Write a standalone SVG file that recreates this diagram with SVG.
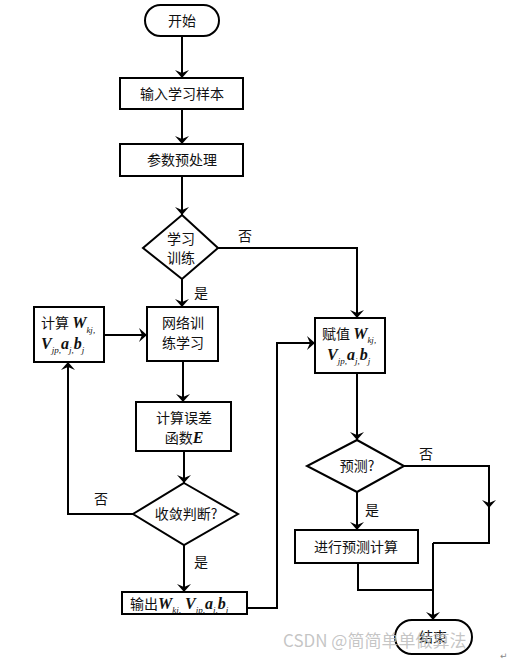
<svg xmlns="http://www.w3.org/2000/svg" width="509" height="664" viewBox="0 0 509 664">
<defs>
<marker id="ah" viewBox="0 0 8 14" refX="8" refY="7" markerWidth="8" markerHeight="14" markerUnits="userSpaceOnUse" orient="auto">
<path d="M0,0 L8,7 L0,14 L3,7 Z" fill="#000"/>
</marker>
<style>
.s{fill:#fff;stroke:#000;stroke-width:2}
.c{fill:none;stroke:#000;stroke-width:2}
.t{font-family:"Noto Sans CJK SC","Noto Sans",sans-serif;font-size:14px;fill:#111;text-anchor:middle}
.l{text-anchor:start}
.m{font-family:"Liberation Serif",serif;font-style:italic;font-weight:bold;font-size:16px}
.sb{font-family:"Liberation Serif",serif;font-style:italic;font-size:9px}
.wm{font-family:"Noto Sans CJK SC","Noto Sans",sans-serif;font-size:17px;fill:#bbb;fill-opacity:0.85}
</style>
</defs>
<g id="connectors">
<line class="c" x1="182" y1="36" x2="182" y2="78" marker-end="url(#ah)"/>
<line class="c" x1="182" y1="109" x2="182" y2="144" marker-end="url(#ah)"/>
<line class="c" x1="182" y1="176" x2="182" y2="215" marker-end="url(#ah)"/>
<line class="c" x1="182" y1="279" x2="182" y2="307" marker-end="url(#ah)"/>
<polyline class="c" points="218,248 357,248 357,318" marker-end="url(#ah)"/>
<line class="c" x1="104" y1="335" x2="147" y2="335" marker-end="url(#ah)"/>
<line class="c" x1="183" y1="361" x2="183" y2="402" marker-end="url(#ah)"/>
<line class="c" x1="184" y1="451" x2="184" y2="483" marker-end="url(#ah)"/>
<polyline class="c" points="133,514 68,514 68,362" marker-end="url(#ah)"/>
<line class="c" x1="184" y1="545" x2="184" y2="592" marker-end="url(#ah)"/>
<polyline class="c" points="247,608 277,608 277,343 315,343" marker-end="url(#ah)"/>
<line class="c" x1="357" y1="373" x2="357" y2="440" marker-end="url(#ah)"/>
<line class="c" x1="357" y1="492" x2="357" y2="530" marker-end="url(#ah)"/>
<polyline class="c" points="404,466 489,466 489,508" marker-end="url(#ah)"/>
<polyline class="c" points="489,500 489,543 433,543"/>
<polyline class="c" points="358,563 358,590 433,590"/>
<line class="c" x1="433" y1="543" x2="433" y2="620" marker-end="url(#ah)"/>
<text class="t" x="245" y="241">否</text>
<text class="t" x="201" y="298">是</text>
<text class="t" x="101" y="504">否</text>
<text class="t" x="201" y="567">是</text>
<text class="t" x="426" y="459">否</text>
<text class="t" x="372" y="515">是</text>
</g>
<g id="start">
<rect class="s" x="145" y="5" width="74" height="31" rx="15.5"/>
<text class="t" x="182" y="26">开始</text>
</g>
<g id="input">
<rect class="s" x="120" y="78" width="123" height="31"/>
<text class="t" x="182" y="99">输入学习样本</text>
</g>
<g id="preprocess">
<rect class="s" x="120" y="144" width="123" height="32"/>
<text class="t" x="182" y="165">参数预处理</text>
</g>
<g id="train-decision">
<polygon class="s" points="182,215 218,248 182,279 143,248"/>
<text class="t" x="181" y="244">学习</text>
<text class="t" x="181" y="263">训练</text>
</g>
<g id="calc-w">
<rect class="s" x="34" y="307" width="70" height="55"/>
<text class="t l" x="41" y="328">计算 <tspan class="m">W</tspan><tspan class="sb" dy="5">kj</tspan><tspan class="sb">,</tspan></text>
<text class="t l" x="41" y="349"><tspan class="m">V</tspan><tspan class="sb" dy="4">jp</tspan><tspan class="sb">,</tspan><tspan class="m" dy="-4">a</tspan><tspan class="sb" dy="4">j</tspan><tspan class="sb">,</tspan><tspan class="m" dy="-4">b</tspan><tspan class="sb" dy="4">j</tspan></text>
</g>
<g id="net-train">
<rect class="s" x="147" y="307" width="71" height="54"/>
<text class="t" x="183" y="328">网络训</text>
<text class="t" x="183" y="348">练学习</text>
</g>
<g id="error">
<rect class="s" x="136" y="402" width="95" height="49"/>
<text class="t" x="184" y="423">计算误差</text>
<text class="t" x="184" y="443">函数<tspan class="m">E</tspan></text>
</g>
<g id="converge">
<polygon class="s" points="184,483 238,514 184,545 133,514"/>
<text class="t" x="186" y="519">收敛判断?</text>
</g>
<g id="output">
<rect class="s" x="122" y="592" width="125" height="22"/>
<text class="t l" x="130" y="609">输出<tspan class="m">W</tspan><tspan class="sb" dy="4">kj</tspan><tspan class="sb">,</tspan><tspan class="m" dy="-4"> V</tspan><tspan class="sb" dy="4">jp</tspan><tspan class="sb">,</tspan><tspan class="m" dy="-4">a</tspan><tspan class="sb" dy="4">j</tspan><tspan class="sb">,</tspan><tspan class="m" dy="-4">b</tspan><tspan class="sb" dy="4">j</tspan></text>
</g>
<g id="assign">
<rect class="s" x="315" y="318" width="70" height="55"/>
<text class="t l" x="322" y="339">赋值 <tspan class="m">W</tspan><tspan class="sb" dy="4">kj</tspan><tspan class="sb">,</tspan></text>
<text class="t l" x="327" y="360"><tspan class="m">V</tspan><tspan class="sb" dy="4">jp</tspan><tspan class="sb">,</tspan><tspan class="m" dy="-4">a</tspan><tspan class="sb" dy="4">j</tspan><tspan class="sb">,</tspan><tspan class="m" dy="-4">b</tspan><tspan class="sb" dy="4">j</tspan></text>
</g>
<g id="predict-decision">
<polygon class="s" points="357,440 404,466 357,492 307,466"/>
<text class="t" x="357" y="471">预测?</text>
</g>
<g id="predict-calc">
<rect class="s" x="295" y="530" width="123" height="33"/>
<text class="t" x="356" y="552">进行预测计算</text>
</g>
<g id="end">
<rect class="s" x="395" y="620" width="77" height="34" rx="17"/>
<text class="t" x="433" y="642">结束</text>
</g>
<g id="watermark">
<text class="wm" x="283" y="647">CSDN @简简单单做算法</text>
<text x="500" y="659" font-family="DejaVu Sans, sans-serif" font-size="9" fill="#888">↵</text>
</g>
</svg>
